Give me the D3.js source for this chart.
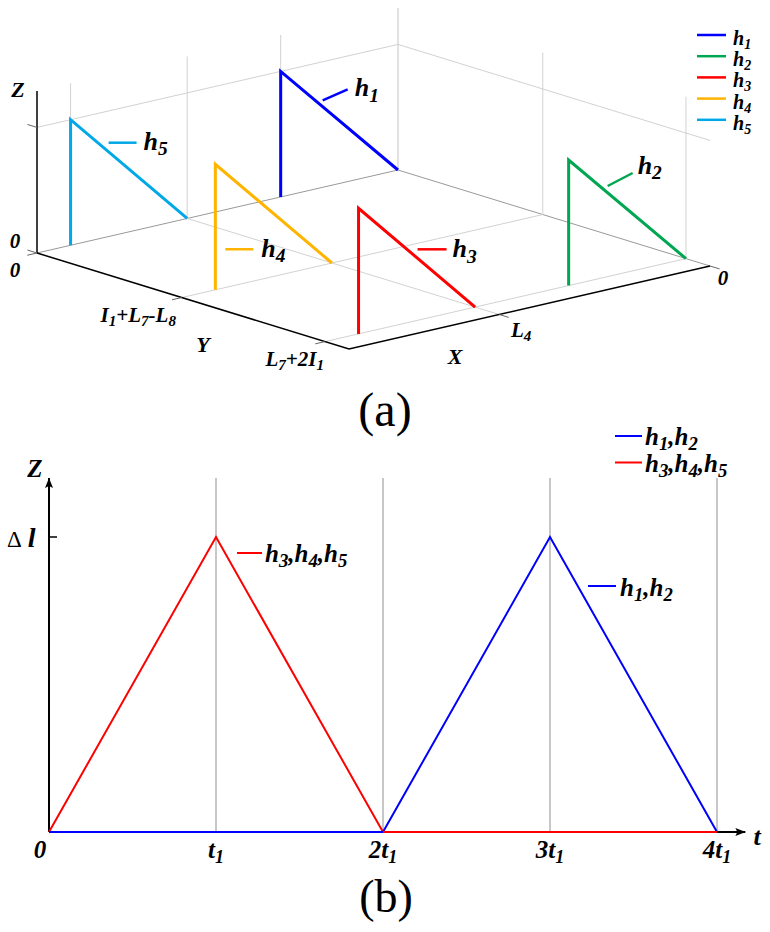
<!DOCTYPE html>
<html>
<head>
<meta charset="utf-8">
<script src="https://cdn.jsdelivr.net/npm/d3@7"></script>
<style>
  body { margin: 0; background: #fff; }
  svg { display: block; }
  text { font-family: "Liberation Serif", "Times New Roman", serif; }
</style>
</head>
<body>
<svg id="svg" width="770" height="932" font-family="Liberation Serif, Times New Roman, serif"></svg>
<script>
// ---------- panel (a) data: rod profiles in the X-Y-Z box ----------
var rodNames = ["h1", "h2", "h3", "h4", "h5"];
var rodColors = ["#0000ff", "#00a651", "#ff0000", "#ffb400", "#00a8e8"];
var rodY = [0, 0.923, 0.923, 0.464, 0];          // Y position of each rod
var rodXFoot = [0, 0, 0.584, 0.584, 0.584];      // slope meets the floor here
var rodXPost = [0.325, 0.325, 0.907, 0.907, 0.907]; // vertical post here
var rodTop = [1, 1, 1, 1, 1];                    // height, in units of delta l

var xTickValues = [0, 0.584];
var xTickLabels = ["0", "L4"];
var xWallGrid = [0.325, 0.584, 0.907];
var yTickValues = [0, 0.464, 0.923];
var yTickLabels = ["0", "I1+L7-L8", "L7+2I1"];
var zTickValues = [0, 1];
var zTickLabels = ["0", ""];

// ---------- panel (b) data: Z against time ----------
var tTickValues = [0, 1, 2, 3, 4];
var tTickLabels = ["0", "t1", "2t1", "3t1", "4t1"];
var timeSteps = [0, 1, 2, 3, 4];
var zRed = [0, 1, 0, 0, 0];   // h3,h4,h5
var zBlue = [0, 0, 0, 1, 0];  // h1,h2
var groupNames = ["h1,h2", "h3,h4,h5"];

var svg = d3.select("#svg");

// writes "L7+2I1" style strings, a digit right after a letter is a subscript
function richText(sel, str, fs, subScale) {
  subScale = subScale || 0.72;
  var parts = [];
  for (var i = 0; i < str.length; i++) {
    var c = str[i];
    var isDigit = /[0-9]/.test(c);
    var sub = isDigit && i > 0 && (/[A-Za-z]/.test(str[i - 1]) ||
      (parts.length && parts[parts.length - 1].sub && /[0-9]/.test(str[i - 1])));
    if (parts.length && parts[parts.length - 1].sub === sub) parts[parts.length - 1].t += c;
    else parts.push({ t: c, sub: sub });
  }
  var shift = 0;
  parts.forEach(function (p) {
    var target = p.sub ? fs * 0.2 : 0;
    sel.append("tspan")
      .attr("dy", target - shift)
      .attr("font-size", p.sub ? fs * subScale : fs)
      .text(p.t);
    shift = target;
  });
  return sel;
}

function label(g, str, x, y, fs, anchor, subScale) {
  var t = g.append("text")
    .attr("x", x).attr("y", y)
    .attr("font-weight", "bold").attr("font-style", "italic")
    .attr("text-anchor", anchor || "start")
    .attr("fill", "#000");
  return richText(t, str, fs, subScale);
}

// ================= panel (a) =================
var A = svg.append("g").attr("class", "panel-a");

// orthographic projection, corner X=0,Y=0,Z=0 sits at the back
var backCorner = [398, 170];
var xVec = [-361, 83], yVec = [312, 96], zVec = [0, -162];
var xS = d3.scaleLinear().domain([0, 1]).range([0, 1]);
var yS = d3.scaleLinear().domain([0, 1]).range([0, 1]);
var zS = d3.scaleLinear().domain([0, 1.29]).range([0, 1]);
var zMax = 1.29;

function proj(x, y, z) {
  var a = xS(x), b = yS(y), c = zS(z);
  return [backCorner[0] + a * xVec[0] + b * yVec[0] + c * zVec[0],
          backCorner[1] + a * xVec[1] + b * yVec[1] + c * zVec[1]];
}
function unit(v) { var n = Math.hypot(v[0], v[1]); return [v[0] / n, v[1] / n]; }
var line3 = d3.line().x(function (p) { return proj(p[0], p[1], p[2])[0]; })
                     .y(function (p) { return proj(p[0], p[1], p[2])[1]; });

function seg(g, pts, color, w) {
  return g.append("path").attr("d", line3(pts)).attr("fill", "none")
    .attr("stroke", color).attr("stroke-width", w || 1);
}

var grid = A.append("g").attr("class", "grid");
var gridColor = "#d2d2d2";
// back edges
seg(grid, [[0, 0, 0], [0, 0, zMax]], "#c4c4c4");
seg(grid, [[1, 0, 0], [0, 0, 0], [0, 1, 0]], "#999999");
// X grid: vertical on Y=0 wall, floor line for labelled L4
xWallGrid.forEach(function (x) { seg(grid, [[x, 0, 0], [x, 0, zMax]], gridColor); });
xTickValues.filter(function (v) { return v > 0; }).forEach(function (x) {
  seg(grid, [[x, 0, 0], [x, 1, 0]], gridColor);
});
// Y grid: floor lines and verticals on X=0 wall
yTickValues.filter(function (v) { return v > 0; }).forEach(function (y) {
  seg(grid, [[1, y, 0], [0, y, 0]], gridColor);
  seg(grid, [[0, y, 0], [0, y, zMax]], gridColor);
});
// Z grid on both walls
zTickValues.filter(function (v) { return v > 0; }).forEach(function (z) {
  seg(grid, [[1, 0, z], [0, 0, z], [0, 1, z]], gridColor);
});

// axes
var axes = A.append("g").attr("class", "axes");
seg(axes, [[1, 0, 0], [1, 0, zMax]], "#000", 1.5);
seg(axes, [[1, 0, 0], [1, 1, 0], [0, 1, 0]], "#000", 1.5);

// ticks
var tickLen = 10, tickColor = "#666";
var ux = unit(xVec), uy = unit(yVec);
function tick(p, dir) {
  axes.append("line").attr("x1", p[0]).attr("y1", p[1])
    .attr("x2", p[0] + dir[0] * tickLen).attr("y2", p[1] + dir[1] * tickLen)
    .attr("stroke", tickColor).attr("stroke-width", 1);
}
xTickValues.forEach(function (x) { tick(proj(x, 1, 0), uy); });
yTickValues.forEach(function (y) { tick(proj(1, y, 0), ux); });
zTickValues.forEach(function (z) { tick(proj(1, 0, z), [-uy[0], -uy[1]]); });

// tick labels and axis names
var fsTick = 21;
label(A, zTickLabels[0], 15, 248, fsTick, "middle");
label(A, yTickLabels[0], 15, 277, fsTick, "middle");
label(A, yTickLabels[1], 176, 322, fsTick, "end");
label(A, yTickLabels[2], 324, 366, fsTick, "end");
label(A, xTickLabels[0], 723, 285, fsTick, "middle");
label(A, xTickLabels[1], 511, 337, fsTick, "start");
label(A, "Z", 18, 97, 22, "middle");
label(A, "Y", 203, 352, 22, "middle");
label(A, "X", 455, 364, 22, "middle");

// rods
var rods = rodNames.map(function (n, i) {
  return { name: n, color: rodColors[i], y: rodY[i], foot: rodXFoot[i], post: rodXPost[i], top: rodTop[i] };
});
A.append("g").selectAll("path").data(rods).join("path")
  .attr("d", function (d) { return line3([[d.post, d.y, 0], [d.post, d.y, d.top], [d.foot, d.y, 0]]); })
  .attr("fill", "none").attr("stroke", function (d) { return d.color; })
  .attr("stroke-width", 3).attr("stroke-linejoin", "miter");

// leader labels, offsets from each rod's top corner
var leaderOffsets = {
  h1: [[42, 29], [67, 18], [74, 25]],
  h2: [[39, 26], [64, 13], [69, 14]],
  h3: [[59, 41], [88, 41], [94, 49]],
  h4: [[10, 85], [38, 85], [46, 93]],
  h5: [[38, 23], [66, 23], [73, 30]]
};
var leaders = A.append("g");
rods.forEach(function (d) {
  var p = proj(d.post, d.y, d.top), o = leaderOffsets[d.name];
  leaders.append("line")
    .attr("x1", p[0] + o[0][0]).attr("y1", p[1] + o[0][1])
    .attr("x2", p[0] + o[1][0]).attr("y2", p[1] + o[1][1])
    .attr("stroke", d.color).attr("stroke-width", 2.5);
  label(leaders, d.name, p[0] + o[2][0], p[1] + o[2][1], 26, "start", 0.75);
});

// legend (a)
var legA = A.append("g").attr("transform", "translate(697,35)");
rods.forEach(function (d, i) {
  legA.append("line").attr("x1", 0).attr("x2", 29)
    .attr("y1", i * 21.2).attr("y2", i * 21.2)
    .attr("stroke", d.color).attr("stroke-width", 2.5);
  label(legA, d.name, 36, i * 21.2 + 10, 20, "start", 0.7);
});

svg.append("text").attr("x", 385).attr("y", 426).attr("text-anchor", "middle")
  .attr("font-size", 48).text("(a)");

// ================= panel (b) =================
var Bp = svg.append("g").attr("class", "panel-b");
var tScale = d3.scaleLinear().domain([0, 4]).range([49, 717]);
var zScale = d3.scaleLinear().domain([0, 1]).range([832, 537]);
var zTop = 1.2, tEnd = 4.17;

// vertical grid
Bp.append("g").selectAll("line").data(tTickValues.filter(function (t) { return t > 0; }))
  .join("line")
  .attr("x1", function (t) { return tScale(t); }).attr("x2", function (t) { return tScale(t); })
  .attr("y1", zScale(0)).attr("y2", zScale(zTop))
  .attr("stroke", "#8f8f8f").attr("stroke-width", 1);

// axes with arrows
svg.append("defs").append("marker").attr("id", "arrow")
  .attr("viewBox", "0 0 10 8").attr("refX", 10).attr("refY", 4)
  .attr("markerWidth", 10).attr("markerHeight", 8).attr("markerUnits", "userSpaceOnUse")
  .attr("orient", "auto")
  .append("path").attr("d", "M0,0 L10,4 L0,8 L2,4 Z").attr("fill", "#000");

Bp.append("line").attr("x1", tScale(0)).attr("y1", zScale(0))
  .attr("x2", tScale(0)).attr("y2", zScale(zTop))
  .attr("stroke", "#000").attr("stroke-width", 2).attr("marker-end", "url(#arrow)");
Bp.append("line").attr("x1", tScale(0)).attr("y1", zScale(0))
  .attr("x2", tScale(tEnd)).attr("y2", zScale(0))
  .attr("stroke", "#000").attr("stroke-width", 2).attr("marker-end", "url(#arrow)");
// delta l tick
Bp.append("line").attr("x1", tScale(0)).attr("x2", tScale(0) + 8)
  .attr("y1", zScale(1)).attr("y2", zScale(1)).attr("stroke", "#000").attr("stroke-width", 1.5);

// series, drawn per half so the flat line sits on top of the other's ramp
var seriesB = [
  { name: groupNames[1], color: "#ff0000", z: zRed },
  { name: groupNames[0], color: "#0000ff", z: zBlue }
];
var windows = [[0, 2], [2, 4]];
var lineB = d3.line().x(function (d) { return tScale(d.t); }).y(function (d) { return zScale(d.z); });
windows.forEach(function (w) {
  var parts = seriesB.map(function (s) {
    var pts = timeSteps.map(function (t, i) { return { t: t, z: s.z[i] }; })
      .filter(function (d) { return d.t >= w[0] && d.t <= w[1]; });
    return { s: s, pts: pts, peak: d3.max(pts, function (d) { return d.z; }) };
  }).sort(function (a, b) { return b.peak - a.peak; });
  parts.forEach(function (p) {
    Bp.append("path").attr("d", lineB(p.pts)).attr("fill", "none")
      .attr("stroke", p.s.color).attr("stroke-width", 2).attr("stroke-linejoin", "miter");
  });
});

// tick labels
tTickValues.forEach(function (t, i) {
  label(Bp, tTickLabels[i], tScale(t) + (i === 0 ? -9 : 0), 858, 25, "middle");
});
label(Bp, "Z", 35, 477, 25, "middle");
label(Bp, "t", 757, 845, 26, "middle");
var dl = Bp.append("text").attr("x", 7).attr("y", 547);
dl.append("tspan").attr("font-size", 23).text("\u0394");
dl.append("tspan").attr("dx", 6).attr("font-size", 28).attr("font-weight", "bold")
  .attr("font-style", "italic").text("l");

// line labels
var labelB = [
  { s: seriesB[0], at: 1, dx: [21, 46], dy: 16, tx: 49, ty: 25 },
  { s: seriesB[1], at: 3, dx: [38, 66], dy: 49, tx: 70, ty: 59 }
];
labelB.forEach(function (l) {
  var x0 = tScale(l.at), y0 = zScale(1);
  Bp.append("line").attr("x1", x0 + l.dx[0]).attr("x2", x0 + l.dx[1])
    .attr("y1", y0 + l.dy).attr("y2", y0 + l.dy)
    .attr("stroke", l.s.color).attr("stroke-width", 2);
  label(Bp, l.s.name, x0 + l.tx, y0 + l.ty, 25, "start", 0.75);
});

// legend (b)
var legB = Bp.append("g").attr("transform", "translate(615,436)");
[seriesB[1], seriesB[0]].forEach(function (s, i) {
  legB.append("line").attr("x1", 0).attr("x2", 27).attr("y1", i * 26.5).attr("y2", i * 26.5)
    .attr("stroke", s.color).attr("stroke-width", 2);
  label(legB, s.name, 30, i * 26.5 + 9, 25, "start", 0.75);
});

svg.append("text").attr("x", 386).attr("y", 912).attr("text-anchor", "middle")
  .attr("font-size", 46).text("(b)");
</script>
</body>
</html>
